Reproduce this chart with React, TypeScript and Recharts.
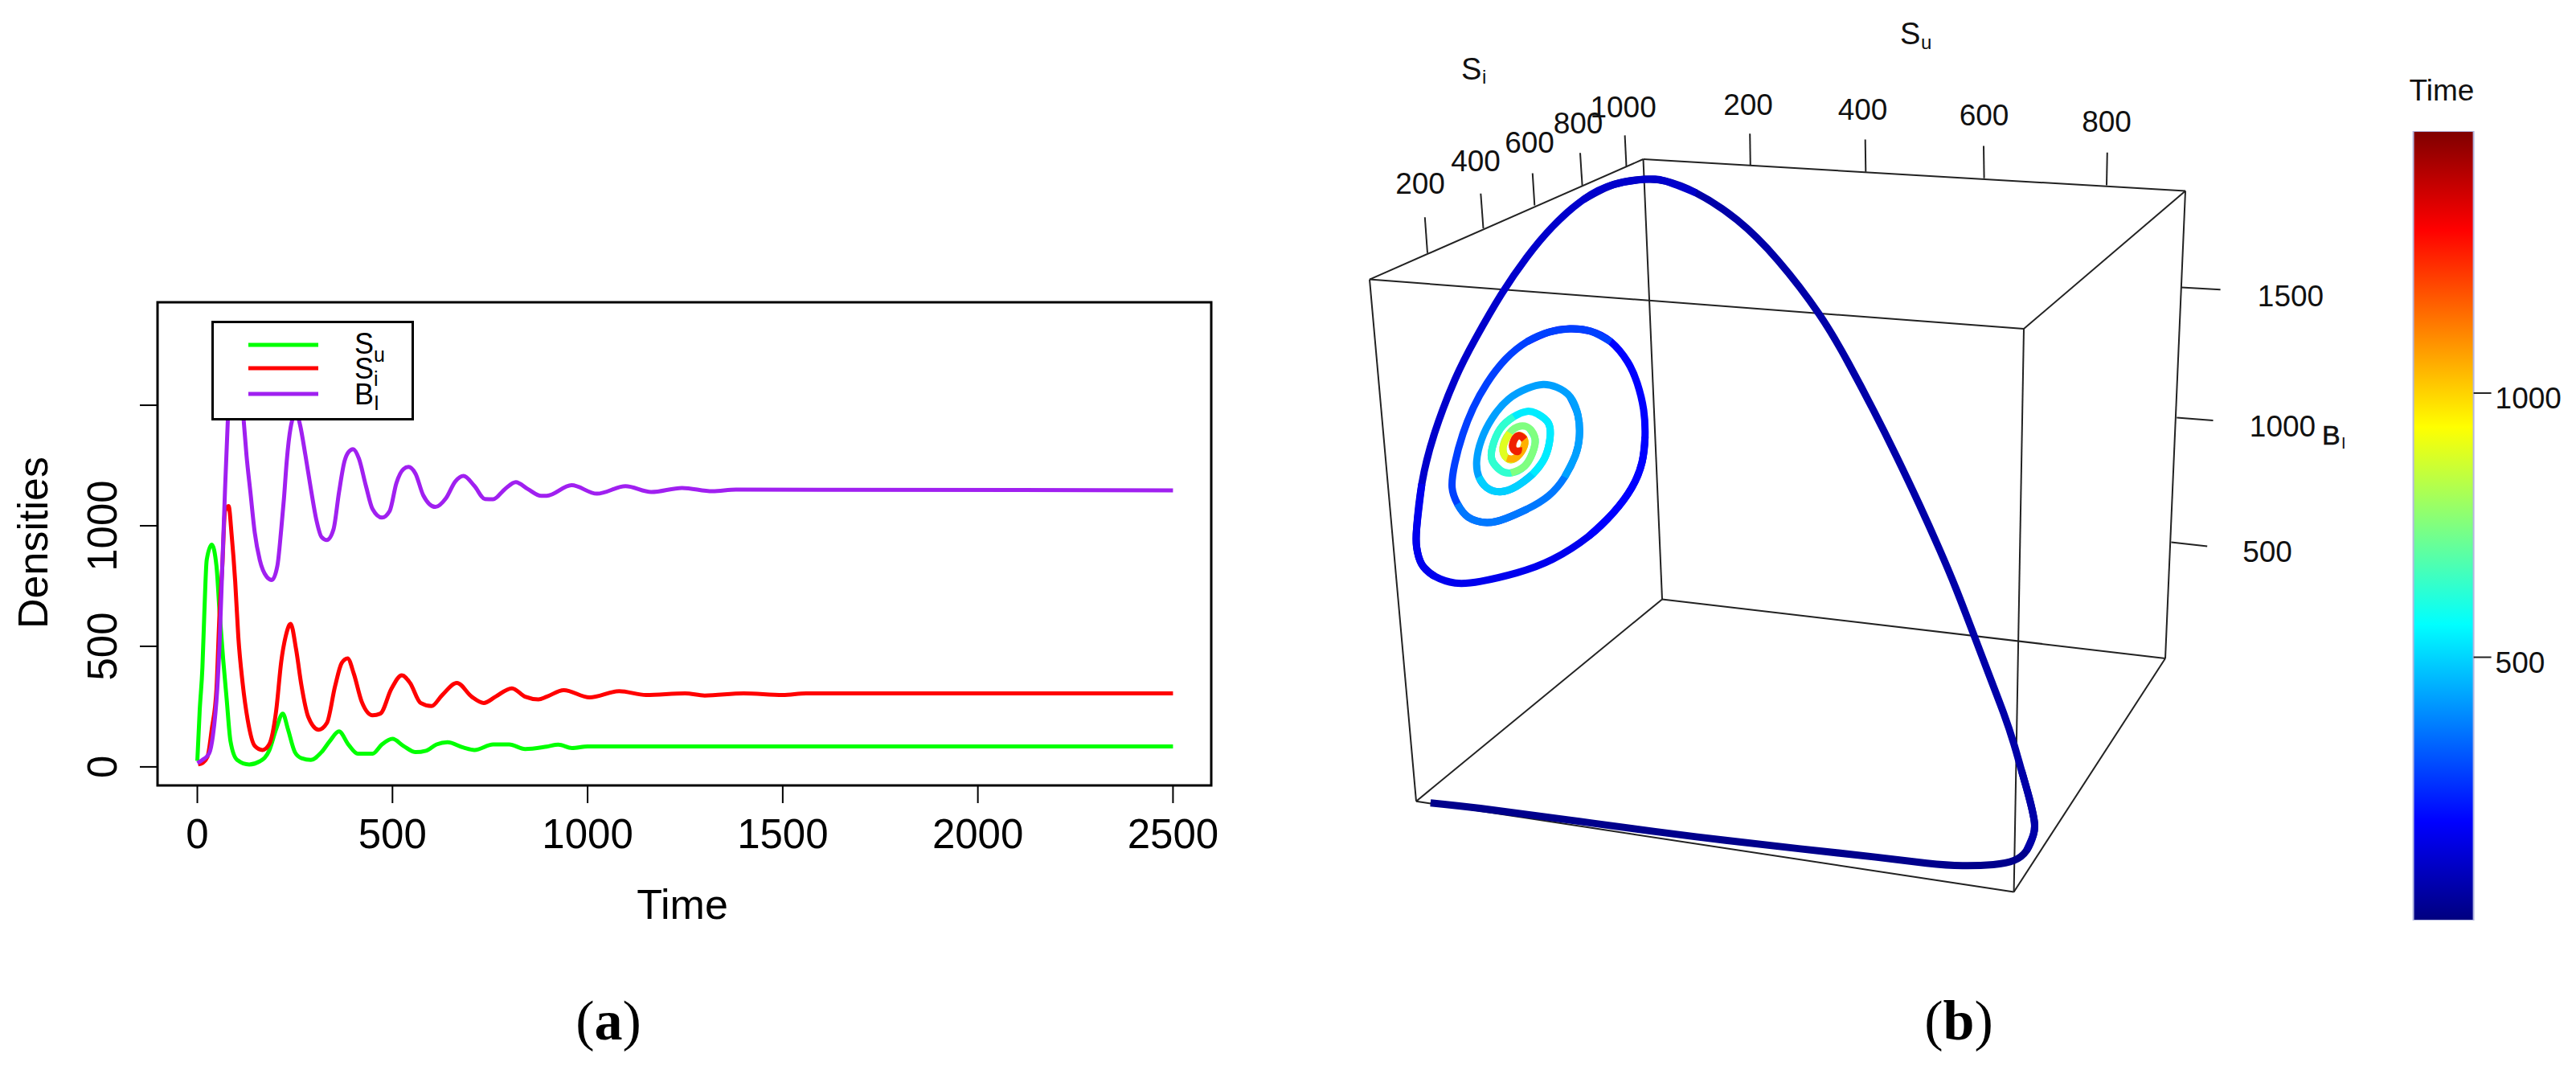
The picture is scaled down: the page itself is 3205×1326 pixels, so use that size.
import React from "react"
import {
  Bar,
  BarChart,
  ComposedChart,
  Legend,
  Line,
  ReferenceArea,
  XAxis,
  YAxis,
} from "recharts"

const FONT = "'Liberation Sans', Arial, sans-serif"

// panel (a): densities over time
const suTime = [0, 6, 13, 18, 24, 37, 49, 57, 66, 75, 85, 102, 133, 160, 184, 202, 219, 232, 250, 267, 291, 318, 339, 363, 387, 411, 449, 473, 500, 528, 559, 586, 613, 641, 682, 710, 758, 799, 840, 895, 925, 960, 1000, 2500]
const suVal = [25, 233, 412, 641, 858, 922, 833, 641, 450, 284, 106, 29, 10, 23, 67, 157, 221, 157, 61, 36, 29, 61, 106, 147, 93, 55, 55, 93, 116, 87, 61, 67, 93, 102, 80, 70, 93, 93, 74, 84, 92, 78, 85, 85]

const siTime = [2, 13, 26, 37, 49, 57, 64, 71, 80, 88, 97, 105, 116, 129, 147, 167, 184, 202, 215, 226, 239, 253, 267, 284, 311, 332, 353, 370, 385, 401, 421, 449, 469, 497, 524, 545, 572, 600, 627, 665, 703, 734, 764, 806, 840, 874, 895, 939, 1005, 1081, 1150, 1250, 1300, 1400, 1500, 1560, 2500]
const siVal = [10, 16, 42, 157, 323, 641, 833, 1062, 1082, 960, 769, 539, 348, 195, 87, 70, 93, 233, 437, 539, 593, 488, 335, 208, 154, 182, 335, 431, 450, 386, 271, 214, 221, 323, 380, 348, 265, 252, 297, 348, 291, 265, 291, 326, 291, 280, 291, 318, 288, 314, 298, 305, 296, 305, 298, 305, 305]

const biTime = [0, 13, 30, 40, 51, 57, 64, 71, 78, 88, 99, 109, 119, 126, 136, 147, 160, 178, 191, 205, 215, 222, 229, 239, 253, 263, 277, 291, 305, 318, 332, 349, 363, 377, 387, 399, 414, 432, 449, 473, 493, 510, 528, 541, 559, 579, 610, 637, 661, 682, 710, 737, 758, 788, 816, 847, 881, 895, 959, 1024, 1097, 1163, 1242, 1320, 1380, 2500]
const biVal = [16, 29, 55, 131, 323, 514, 833, 1152, 1432, 1680, 1780, 1680, 1432, 1292, 1139, 973, 858, 788, 775, 833, 986, 1114, 1267, 1407, 1471, 1420, 1292, 1152, 1024, 954, 941, 986, 1139, 1267, 1305, 1318, 1279, 1165, 1069, 1034, 1062, 1177, 1235, 1244, 1216, 1126, 1078, 1114, 1184, 1207, 1165, 1111, 1110, 1152, 1181, 1152, 1124, 1124, 1168, 1133, 1164, 1140, 1157, 1143, 1150, 1147]

const timeTicks = [0, 500, 1000, 1500, 2000, 2500]
const densityTicks = [0, 500, 1000, 1500]
const densityTickLabels = ["0", "500", "1000", ""]
const legendLabels = [
  { name: "S", sub: "u", color: "#00ff00" },
  { name: "S", sub: "i", color: "#ff0000" },
  { name: "B", sub: "I", color: "#a020f0" },
]

// panel (b): projected view of the 3d box, in view units
const boxCorners: Record<string, [number, number]> = {
  a: [104, 347.6],
  b: [444.5, 198],
  c: [1119, 237.5],
  d: [918, 409],
  e: [162, 996.7],
  f: [468, 745.4],
  g: [905.6, 1109.5],
  h: [1094, 819],
}
const boxEdges = ["ab", "bc", "cd", "da", "ef", "fh", "hg", "ge", "ae", "bf", "ch", "dg"]

const axisTickMarks: [number, number][][] = [
  [[176, 314.8], [172.8, 270.2]],
  [[245.5, 284], [242.3, 240.7]],
  [[309.3, 255.5], [306.8, 215.5]],
  [[368.6, 230.6], [366, 190.2]],
  [[423.5, 207], [421.6, 168.4]],
  [[577.8, 205.4], [577.2, 166.2]],
  [[721.3, 213.8], [720.7, 173.4]],
  [[868.6, 221.8], [868, 181.4]],
  [[1021, 230.5], [1021.8, 189.8]],
  [[1114, 357.4], [1162.6, 360.2]],
  [[1108.3, 519.5], [1153.5, 523]],
  [[1101.4, 674.5], [1146.2, 679.4]],
]
const axisTickLabels = [
  { x: 167, y: 228.5, text: "200" },
  { x: 236, y: 200, text: "400" },
  { x: 303, y: 177, text: "600" },
  { x: 363.5, y: 153.6, text: "800" },
  { x: 419.6, y: 133, text: "1000" },
  { x: 575, y: 130.5, text: "200" },
  { x: 717.5, y: 136.8, text: "400" },
  { x: 868.6, y: 143, text: "600" },
  { x: 1021, y: 151, text: "800" },
  { x: 1250, y: 368.7, text: "1500" },
  { x: 1240, y: 530, text: "1000" },
  { x: 1221, y: 686.5, text: "500" },
]

// trajectory, one piece per time colour
const trajectory: { color: string; points: [number, number][] }[] = [
  {
    color: "#00008c",
    points: [[179.8, 998.8], [255.1, 1007.2], [382.7, 1024.1], [510.2, 1040.9], [637.8, 1055.6], [733.4, 1066.1], [797.2, 1073.7], [841.8, 1076.7], [880.1, 1075.4], [905.6, 1070.4], [921.6, 1057.7], [929.8, 1038.8], [931.1, 1022]],
  },
  {
    color: "#0000a8",
    points: [[931.1, 1022], [924.7, 992.5], [915.2, 958.8], [905.6, 925.2], [892.9, 887.3], [876.9, 845.2], [857.8, 795], [833.9, 733], [812.9, 683], [787.7, 627], [759.2, 567], [730.7, 510], [698.9, 450], [663.5, 391], [612.2, 324.1], [561.2, 273.6], [510.2, 239.9], [471.9, 225.2], [446.4, 223.1]],
  },
  {
    color: "#0000cc",
    points: [[446.4, 223.1], [408.2, 229.4], [369.9, 248.3], [331.6, 282], [299.7, 319.9], [267.9, 366.2], [236, 420.9], [210.5, 471.4], [184.9, 538.7], [169, 601.9], [162.6, 656.6], [162.6, 681]],
  },
  {
    color: "#0000ee",
    points: [[162.6, 681], [169, 702.1], [184.9, 716.8], [210.5, 725.2], [242.3, 723.1], [287, 712.6], [331.6, 695.8], [376.7, 667], [407, 638], [430, 607]],
  },
  {
    color: "#0000ff",
    points: [[430, 607], [443, 575], [446.7, 543.3], [445, 510], [437, 476.7], [425, 450], [404, 425], [379, 412], [353, 409]],
  },
  {
    color: "#0040ff",
    points: [[353, 409], [326.7, 413.3], [300, 425], [273.3, 446.7], [250, 476.7], [233.3, 506.7], [220, 540], [210, 576.7], [206.7, 606.7], [213.3, 626.7], [226.7, 643.3], [250, 650]],
  },
  {
    color: "#0078ff",
    points: [[250, 650], [273.3, 645], [300, 633.3], [326.7, 616.7], [346.7, 593.3], [360, 566.7], [365, 543.3]],
  },
  {
    color: "#00a0ff",
    points: [[365, 543.3], [363.3, 516.7], [353.3, 493.3], [336.7, 481.7], [320, 478.3], [300, 483.3], [276.7, 496.7], [256.7, 520], [243.3, 546.7], [237.3, 573.3], [240, 593.3], [250, 606.7], [266.7, 611.7]],
  },
  {
    color: "#00d0ff",
    points: [[266.7, 611.7], [286.7, 605], [306.7, 590], [321.7, 570], [328.3, 546.7]],
  },
  {
    color: "#00ecff",
    points: [[328.3, 546.7], [326.7, 526.7], [313.3, 515], [300, 511.7], [283.3, 518.3], [266.7, 533.3], [256.7, 556.7]],
  },
  {
    color: "#30ffd0",
    points: [[256.7, 556.7], [256.7, 573.3], [266.7, 585], [280, 588.3], [296.7, 580], [306.7, 563.3]],
  },
  {
    color: "#80ff80",
    points: [[306.7, 563.3], [310, 546.7], [303.3, 533.3], [291.7, 530], [278.3, 538.3], [270, 556.7], [275, 570]],
  },
  {
    color: "#e0ff20",
    points: [[275, 570], [285, 570], [295, 558.3]],
  },
  {
    color: "#ffb000",
    points: [[295, 558.3], [296.7, 546.7], [290, 541.7], [283.3, 548.3]],
  },
  {
    color: "#f02000",
    points: [[283.3, 548.3], [282.7, 558.3], [288.3, 561.7], [289.3, 556.7]],
  },
]

// colour bar
const timeRange: [number, number] = [1.7, 1496]
const colorBarTicks = [500, 1000]
const jetOffsets = [0, 0.125, 0.375, 0.625, 0.875, 1]
const jetColors = ["#7f0000", "#ff0000", "#ffff00", "#00ffff", "#0000ff", "#00007f"]

const zip = (xs: number[], ys: number[]) => xs.map((x, i) => ({ x, y: ys[i] }))
const toPoints = (pts: [number, number][]) => pts.map(([x, y]) => ({ x, y }))

// a piece borrows points from its neighbours so the curve stays smooth where colours meet
const withNeighbours = (i: number) => {
  const pts = trajectory[i].points
  const prev = trajectory[i - 1]?.points
  const next = trajectory[i + 1]?.points
  return toPoints([
    ...(prev ? prev.slice(-3, -1) : []),
    ...pts,
    ...(next ? next.slice(1, 3) : []),
  ])
}

function DensityLegend() {
  return (
    <svg width={246} height={118} style={{ display: "block" }}>
      {legendLabels.map((item, i) => {
        const lineY = [27, 56, 88][i]
        const baseline = [38, 69, 101][i]
        return (
          <g key={item.color + i}>
            <line x1={43} x2={130} y1={lineY} y2={lineY} stroke={item.color} strokeWidth={5} />
            <text x={175} y={baseline} fontSize={36} fontFamily={FONT}>{item.name}</text>
            <text x={199} y={baseline + [10, 9, 7][i]} fontSize={25} fontFamily={FONT}>{item.sub}</text>
          </g>
        )
      })}
    </svg>
  )
}

function DensityPanel() {
  return (
    <ComposedChart
      width={1600}
      height={1326}
      margin={{ left: 195, right: 93, top: 376, bottom: 348 }}
    >
      <XAxis
        type="number"
        dataKey="x"
        domain={[-102, 2598]}
        ticks={timeTicks}
        height={1}
        tickSize={22}
        tickMargin={0}
        axisLine={false}
        interval={0}
        allowDataOverflow
        tickLine={{ stroke: "#000", strokeWidth: 2 }}
        tick={({ x, y, payload }: any) => (
          <text x={x} y={y + 56} textAnchor="middle" fontSize={51} fontFamily={FONT} fill="#000">
            {payload.value}
          </text>
        )}
      />
      <YAxis
        type="number"
        domain={[-77, 1927]}
        ticks={densityTicks}
        width={1}
        tickSize={22}
        tickMargin={0}
        axisLine={false}
        interval={0}
        allowDataOverflow
        tickLine={{ stroke: "#000", strokeWidth: 2 }}
        tick={({ x, y, index }: any) => (
          <text
            transform={`translate(${x - 29},${y}) rotate(-90)`}
            textAnchor="middle"
            fontSize={51}
            fontFamily={FONT}
            fill="#000"
          >
            {densityTickLabels[index]}
          </text>
        )}
      />
      <ReferenceArea x1={-102} x2={2598} y1={-77} y2={1927} fill="none" stroke="#000" strokeWidth={3} />
      <Line data={zip(suTime, suVal)} dataKey="y" type="monotone" stroke="#00ff00" strokeWidth={5} dot={false} isAnimationActive={false} />
      <Line data={zip(siTime, siVal)} dataKey="y" type="monotone" stroke="#ff0000" strokeWidth={5} dot={false} isAnimationActive={false} />
      <Line data={zip(biTime, biVal)} dataKey="y" type="monotone" stroke="#a020f0" strokeWidth={5} dot={false} isAnimationActive={false} />
      <Legend
        layout="horizontal"
        align="center"
        verticalAlign="middle"
        content={() => <DensityLegend />}
        wrapperStyle={{
          position: "absolute",
          left: 263,
          top: 399,
          width: 252,
          height: 124,
          bottom: "auto",
          right: "auto",
          boxSizing: "border-box",
          background: "#fff",
          border: "3px solid #000",
        }}
      />
      <text
        transform="translate(59,675) rotate(-90)"
        textAnchor="middle"
        fontSize={52}
        fontFamily={FONT}
        fill="#000"
      >
        Densities
      </text>
      <text x={849} y={1143} textAnchor="middle" fontSize={52} fontFamily={FONT} fill="#000">Time</text>
      <text x={757} y={1293} textAnchor="middle" fontSize={70} fontFamily="'Liberation Serif', serif" fill="#000">
        (<tspan fontWeight="bold">a</tspan>)
      </text>
    </ComposedChart>
  )
}

function PhasePanel() {
  const tickLabelStyle = { fontSize: 37, fontFamily: FONT, fill: "#111" }
  return (
    <ComposedChart width={1400} height={1326} margin={{ left: 0, right: 0, top: 0, bottom: 0 }}>
      <XAxis type="number" dataKey="x" domain={[0, 1400]} hide allowDataOverflow />
      <YAxis type="number" domain={[0, 1326]} reversed hide allowDataOverflow width={0} />
      {boxEdges.map((edge) => (
        <Line
          key={edge}
          data={toPoints([boxCorners[edge[0]], boxCorners[edge[1]]])}
          dataKey="y"
          type="linear"
          stroke="#222"
          strokeWidth={2}
          dot={false}
          isAnimationActive={false}
        />
      ))}
      {axisTickMarks.map((mark, i) => (
        <Line
          key={"tick" + i}
          data={toPoints(mark)}
          dataKey="y"
          type="linear"
          stroke="#222"
          strokeWidth={2}
          dot={false}
          isAnimationActive={false}
        />
      ))}
      {trajectory.map((piece, i) => (
        <Line
          key={"traj" + i}
          data={withNeighbours(i)}
          dataKey="y"
          type="natural"
          stroke={piece.color}
          strokeWidth={9}
          dot={false}
          isAnimationActive={false}
        />
      ))}
      <Line
        data={axisTickLabels}
        dataKey="y"
        type="linear"
        stroke="none"
        dot={false}
        isAnimationActive={false}
        label={({ x, y, index }: any) => (
          <text key={index} x={x} y={y} textAnchor="middle" dominantBaseline="central" {...tickLabelStyle}>
            {axisTickLabels[index].text}
          </text>
        )}
      />
      <text x={218} y={99} fontSize={38} fontFamily={FONT} fill="#111">S</text>
      <text x={244} y={104} fontSize={24} fontFamily={FONT} fill="#111">i</text>
      <text x={764} y={55} fontSize={38} fontFamily={FONT} fill="#111">S</text>
      <text x={790} y={61} fontSize={24} fontFamily={FONT} fill="#111">u</text>
      <text x={1289} y={553} fontSize={34} fontFamily={FONT} fill="#111" stroke="#111" strokeWidth={0.6}>B</text>
      <text x={1313} y={558} fontSize={20} fontFamily={FONT} fill="#111">I</text>
      <text x={837} y={1293} textAnchor="middle" fontSize={70} fontFamily="'Liberation Serif', serif" fill="#000">
        (<tspan fontWeight="bold">b</tspan>)
      </text>
    </ComposedChart>
  )
}

function ColorBar() {
  return (
    <BarChart
      width={255}
      height={1326}
      data={[{ name: "Time", span: timeRange }]}
      margin={{ left: 52.6, right: 126.4, top: 163, bottom: 181 }}
      barCategoryGap={0}
    >
      <defs>
        <linearGradient id="jet" x1="0" y1="0" x2="0" y2="1">
          {jetColors.map((color, i) => (
            <stop key={color} offset={jetOffsets[i]} stopColor={color} />
          ))}
        </linearGradient>
      </defs>
      <XAxis dataKey="name" hide />
      <YAxis
        orientation="right"
        type="number"
        domain={timeRange}
        ticks={colorBarTicks}
        width={1}
        tickSize={22}
        tickMargin={0}
        axisLine={false}
        allowDataOverflow
        tickLine={{ stroke: "#222", strokeWidth: 2 }}
        tick={({ x, y, payload }: any) => (
          <text x={x + 5} y={y + 19} textAnchor="start" fontSize={37} fontFamily={FONT} fill="#111">
            {payload.value}
          </text>
        )}
      />
      <Bar dataKey="span" fill="url(#jet)" stroke="#b4b8e0" strokeWidth={2} isAnimationActive={false} />
      <text x={88} y={125} textAnchor="middle" fontSize={37} fontFamily={FONT} fill="#111">Time</text>
    </BarChart>
  )
}

export default function App() {
  return (
    <div style={{ position: "absolute", left: 0, top: 0, width: 3205, height: 1326, background: "#fff" }}>
      <div style={{ position: "absolute", left: 0, top: 0 }}>
        <DensityPanel />
      </div>
      <div style={{ position: "absolute", left: 1600, top: 0 }}>
        <PhasePanel />
      </div>
      <div style={{ position: "absolute", left: 2950, top: 0 }}>
        <ColorBar />
      </div>
    </div>
  )
}
